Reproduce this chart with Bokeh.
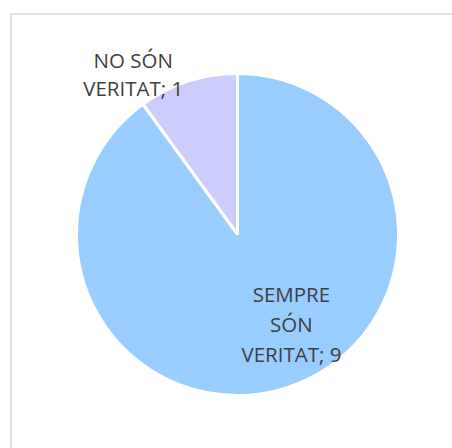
import math
from bokeh.plotting import figure
from bokeh.models import Range1d
from bokeh.core.properties import value
from bokeh.embed import file_html
from bokeh.resources import INLINE

# Data
categories = ["NO SÓN VERITAT", "SEMPRE SÓN VERITAT"]
values = [1, 9]
colors = ["#CCCCFF", "#99CCFF"]
label_lines = [["NO SÓN", "VERITAT; 1"], ["SEMPRE", "SÓN", "VERITAT; 9"]]

# Layout (picture pixel coordinates mapped 1:1, y flipped)
W, H = 452, 448
def py(y):
    return H - y

cx, cy, r = 237, py(234), 161
label_angle_deg = [123, 301]
label_dist = [1.19, 0.65]
line_gap = [28, 30]

p = figure(width=W, height=H, x_range=Range1d(0, W), y_range=Range1d(0, H),
           output_backend="svg", toolbar_location=None, min_border=0)
p.axis.visible = False
p.grid.visible = False
p.outline_line_color = None
p.background_fill_color = "white"
p.border_fill_color = "white"

# chart frame border (extends beyond the visible crop)
p.quad(left=[10.5], right=[470], top=[py(13.5)], bottom=[py(470)],
       fill_color=None, line_color="#D9D9D9", line_width=1.5)

total = sum(values)
start = math.pi / 2
for v, c in zip(values, colors):
    end = start + 2 * math.pi * v / total
    p.wedge(x=cx, y=cy, radius=r, start_angle=start, end_angle=end,
            direction="anticlock", fill_color=c, line_color="white", line_width=3)
    start = end

for lines, ang, dist, gap in zip(label_lines, label_angle_deg, label_dist, line_gap):
    a = math.radians(ang)
    lx = cx + r * dist * math.cos(a)
    ly = cy + r * dist * math.sin(a)
    n = len(lines)
    for i, t in enumerate(lines):
        yy = ly + (n - 1) / 2 * gap - i * gap
        p.text(x=[lx], y=[yy], text=[t], text_align="center", text_baseline="middle",
               text_font=value("Open Sans"), text_font_size="20.5px", text_color="#404040")

open("out.html", "w").write(file_html(p, INLINE))
